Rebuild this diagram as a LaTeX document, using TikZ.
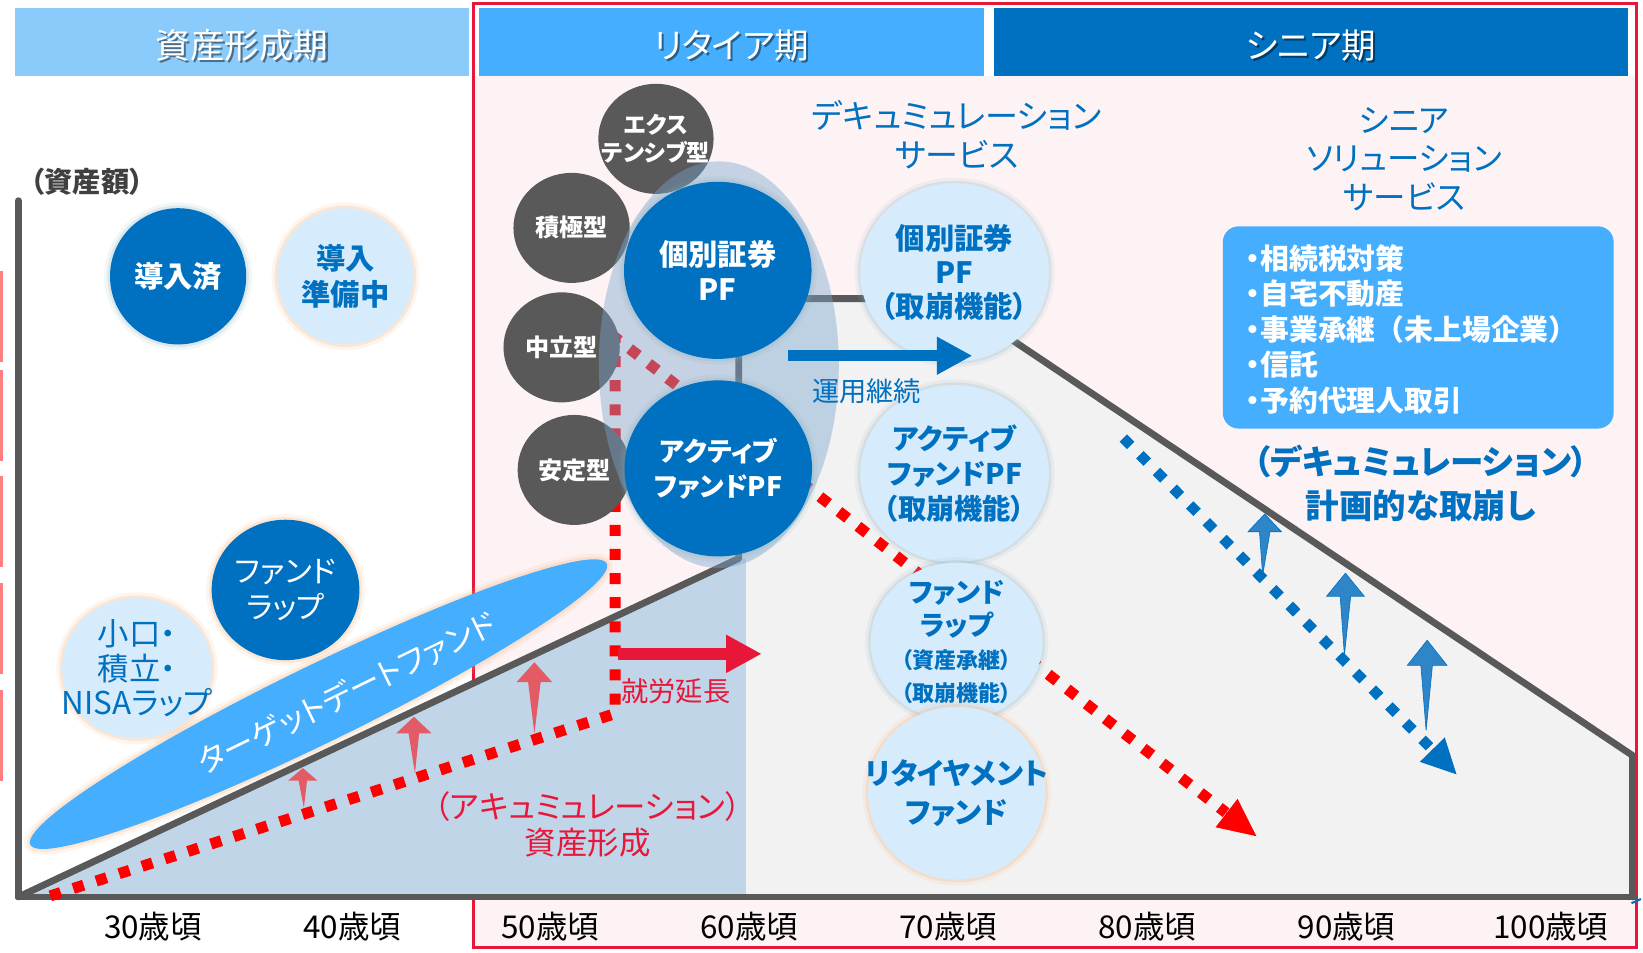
\documentclass[tikz,border=0pt]{standalone}
\usepackage{fontspec}
\setmainfont{Noto Sans CJK JP}[RawFeature=+palt]
\newfontfamily\fw{Noto Sans CJK JP}
\usetikzlibrary{arrows.meta,shapes.geometric}
\newcommand{\fsz}[2]{\fontsize{#1}{#2}\selectfont}
\definecolor{dblue}{HTML}{0070C0}
\definecolor{lblue}{HTML}{D6ECFC}
\definecolor{hdrA}{HTML}{8ACBFC}
\definecolor{hdrB}{HTML}{45AEFF}
\definecolor{gcirc}{HTML}{595959}
\definecolor{axisgray}{HTML}{595959}
\definecolor{pinkbg}{HTML}{FDF3F4}
\definecolor{crim}{HTML}{E8173A}
\definecolor{grayreg}{HTML}{F2F2F2}
\definecolor{bluereg}{HTML}{C0D6E8}
\definecolor{redarr}{HTML}{E35B64}
\definecolor{bluearr}{HTML}{2E86C8}
\definecolor{pinkmark}{HTML}{FF8080}
\definecolor{veil}{RGB}{120,165,205}
\definecolor{tealhalo}{HTML}{7FAABA}
\definecolor{peachhalo}{HTML}{F4A460}
\definecolor{txtgray}{HTML}{404040}
\begin{document}
\begin{tikzpicture}[x=1pt,y=-1pt,
  hdrbox/.style={rectangle, inner sep=0pt, draw=none},
  hdrtxt/.style={text=white, inner sep=0pt, font=\fsz{33}{40}},
  hdrshd/.style={text=black, text opacity=0.45, inner sep=0pt, font=\fsz{33}{40}},
  circ/.style={ellipse, inner sep=0pt},
  ctext/.style={inner sep=0pt, align=center},
  darkc/.style={circ, fill=dblue},
  lightc/.style={circ, fill=lblue},
  grayc/.style={circ, fill=gcirc},
  halo/.style={preaction={draw=#1, draw opacity=0.10, line width=11pt}, preaction={draw=#1, draw opacity=0.18, line width=5pt}},
  axisline/.style={draw=axisgray, line width=6.5pt, line join=round, line cap=round},
  reddot/.style={draw=red, line width=10.5pt, dash pattern=on 10.5pt off 12.5pt},
  bluedot/.style={draw=dblue, line width=10pt, dash pattern=on 10pt off 12.5pt},
  lbl/.style={inner sep=0pt, align=center},
  agelbl/.style={inner sep=0pt, text=black, font=\fsz{30}{30}}
]
\useasboundingbox (0,0) rectangle (1568,909);
\fill[white] (0,0) rectangle (1568,909);
% retire / senior background
\fill[pinkbg] (451.5,72.5) rectangle (1562,904);
\draw[crim, line width=3pt] (451.5,3.5) rectangle (1562,904);

% headers
\node[hdrbox, fill=hdrA, minimum width=433.6pt, minimum height=64.5pt] (hA) at (230.8,40.25) {};
\node[hdrbox, fill=hdrB, minimum width=482.3pt, minimum height=64.5pt] (hB) at (697.85,40.25) {};
\node[hdrbox, fill=dblue, minimum width=605.1pt, minimum height=64.5pt] (hC) at (1251.15,40.25) {};
\node[hdrshd] (hAs) at (233,45.5) {資産形成期};
\node[hdrtxt] (hAt) at (231,43.5) {資産形成期};
\node[hdrshd] (hBs) at (700,45.5) {リタイア期};
\node[hdrtxt] (hBt) at (698,43.5) {リタイア期};
\node[hdrshd] (hCs) at (1253,45.5) {シニア期};
\node[hdrtxt] (hCt) at (1251,43.5) {シニア期};

% left pink marks
\fill[pinkmark] (0,258.6) rectangle (3,345.5);
\fill[pinkmark] (0,353) rectangle (3,440);
\fill[pinkmark] (0,454) rectangle (3,541);
\fill[pinkmark] (0,556) rectangle (3,643);
\fill[pinkmark] (0,658.5) rectangle (3,745.4);

% regions
\fill[bluereg] (17.5,856) -- (705,533) -- (712,533) -- (712,856) -- cycle;
\fill[grayreg] (705,285) -- (907,285) -- (1558,721) -- (1558,856) -- (712,856) -- (712,533) -- (705,533) -- cycle;

% target date fund
\node[ellipse, rotate=26, minimum width=612pt, minimum height=74pt, fill=hdrB, inner sep=0pt, halo=peachhalo] (tdf) at (304,672) {};
\node[rotate=26, text=white, font=\fsz{30}{30}, inner sep=0pt] (tdfT) at (331,661) {ターゲットデートファンド};

% axes and outline
\draw[axisline] (17.5,191.5) -- (17.5,856) -- (1560,856);
\draw[axisline] (17.5,856) -- (705,533) -- (705,285) -- (907,285) -- (1558,721) -- (1558,856);

% red up arrows (accumulation)
\fill[redarr] (289,733) -- (275,745) -- (285,745) -- (290,771) -- (293,745) -- (303,745) -- cycle;
\fill[redarr] (395,684) -- (378,700) -- (390,700) -- (396,738) -- (400,700) -- (412,700) -- cycle;
\fill[redarr] (510,632) -- (493,651) -- (504,651) -- (510,700) -- (516,651) -- (527,651) -- cycle;

% red dotted path
\coordinate (rd0) at (48,855);
\coordinate (rd1) at (587,681);
\coordinate (rd2) at (587,322);
\coordinate (rdM) at (1170,775.5);
\coordinate (rdE) at (1199,798);
\draw[reddot] (rd0) -- (rd1) -- (rd2) -- (rdM);
\draw[red, line width=1pt, -{Triangle[length=36pt,width=34pt]}] (rdM) -- (rdE);

% gray risk-type circles
\node[grayc, minimum width=110pt, minimum height=105pt, label={[ctext, text=white, font=\bfseries\fsz{22}{27}]center:エクス\\テンシブ型}] (gExt) at (626,132.5) {};
\node[grayc, minimum width=111pt, minimum height=105pt, label={[ctext, text=white, font=\bfseries\fsz{23}{27}]center:積極型}] (gSek) at (545.5,217.5) {};
\node[grayc, minimum width=111pt, minimum height=105pt, label={[ctext, text=white, font=\bfseries\fsz{23}{27}]center:中立型}] (gChu) at (536,331.5) {};
\node[grayc, minimum width=108pt, minimum height=105pt, label={[ctext, text=white, font=\bfseries\fsz{23}{27}]center:安定型}] (gAn) at (548,448.5) {};

% translucent veil
\node[ellipse, fill=veil, fill opacity=0.42, minimum width=229pt, minimum height=388pt, inner sep=0pt] (veilE) at (686,348) {};

% dark blue circles
\node[darkc, halo=tealhalo, minimum width=179pt, minimum height=169pt, label={[ctext, text=white, font=\bfseries\fsz{28}{33.5}]center:個別証券\\PF}] (dKob) at (685,258) {};
\node[darkc, halo=tealhalo, minimum width=179pt, minimum height=168pt, label={[ctext, text=white, font=\bfseries\fsz{25.5}{33.5}]center:アクティブ\\ファンドPF}] (dAct) at (685.5,447) {};
\node[darkc, halo=tealhalo, minimum width=130pt, minimum height=130pt, label={[ctext, text=white, font=\bfseries\fsz{28}{33.5}]center:導入済}] (dDonyu) at (170,263.7) {};
\node[darkc, halo=peachhalo, minimum width=141pt, minimum height=134pt, label={[ctext, text=white, font=\fsz{29}{33.5}]center:ファンド\\ラップ}] (dFW) at (272.5,563) {};

% light blue circles
\node[lightc, halo=peachhalo, minimum width=130pt, minimum height=130pt, label={[ctext, text=dblue, font=\bfseries\fsz{28}{33.6}]center:導入\\準備中}] (lJunbi) at (329.6,263.7) {};
\node[lightc, halo=peachhalo, minimum width=143pt, minimum height=134pt, label={[ctext, text=dblue, font=\fsz{30}{32.7}]center:小口・\\積立・\\NISAラップ}] (lKoguchi) at (130.7,637.8) {};
\node[lightc, halo=tealhalo, minimum width=180pt, minimum height=170pt, label={[ctext, text=dblue, font=\bfseries\fsz{28}{32.8}]center:個別証券\\PF\\（取崩機能）}] (lKob) at (911,260) {};
\node[lightc, halo=tealhalo, minimum width=180pt, minimum height=169pt, label={[ctext, text=dblue, font=\bfseries\fsz{27}{33.4}]center:アクティブ\\ファンドPF\\（取崩機能）}] (lAct) at (911,452) {};
\node[lightc, halo=tealhalo, minimum width=164pt, minimum height=151pt, label={[ctext, text=dblue, font=\bfseries\fsz{26}{31.5}]center:ファンド\\ラップ\\{\fsz{21}{31.5}（資産承継）}\\{\fsz{21}{30}（取崩機能）}}] (lFW) at (913,612.5) {};
\node[lightc, halo=peachhalo, minimum width=169pt, minimum height=165pt, label={[ctext, text=dblue, font=\bfseries\fsz{28}{36.6}]center:リタイヤメント\\ファンド}] (lRet) at (913,757) {};

% thick arrows
\coordinate (ua0) at (752,339.5);
\coordinate (ua1) at (928,339.5);
\draw[dblue, line width=10.5pt, -{Triangle[length=34pt,width=34pt]}] (ua0) -- (ua1);
\coordinate (sa0) at (590,624);
\coordinate (sa1) at (727,624);
\draw[crim, line width=11pt, -{Triangle[length=34pt,width=34pt]}] (sa0) -- (sa1);

% blue dotted decumulation path
\coordinate (bd0) at (1072,418);
\coordinate (bdM) at (1367,715.5);
\coordinate (bdE) at (1390,739);
\draw[bluedot] (bd0) -- (bdM);
\draw[dblue, line width=1pt, -{Triangle[length=33pt,width=33pt]}] (bdM) -- (bdE);

% blue up arrows
\fill[bluearr, draw=dblue, line width=0.6pt] (1207,490.5) -- (1191,507.5) -- (1202,507.5) -- (1205,549) -- (1212,507.5) -- (1223,507.5) -- cycle;
\fill[bluearr, draw=dblue, line width=0.6pt] (1284,547) -- (1266,569) -- (1279,569) -- (1283,625) -- (1289,569) -- (1302,569) -- cycle;
\fill[bluearr, draw=dblue, line width=0.6pt] (1362,611) -- (1343,635) -- (1356,635) -- (1361,697) -- (1367,635) -- (1381,635) -- cycle;

% labels
\node[lbl, text=txtgray, font=\bfseries\fsz{27}{30}] (tAmount) at (83,173) {（資産額）};
\node[lbl, text=dblue, font=\fsz{31.5}{37}] (tDecum) at (913,128.5) {デキュミュレーション\\サービス};
\node[lbl, text=dblue, font=\fsz{31}{37}] (tSenior) at (1340,152) {シニア\\ソリューション\\サービス};
\node[rectangle, rounded corners=15pt, fill=hdrB, minimum width=373pt, minimum height=193pt, inner sep=0pt] (sol) at (1353.5,312.5) {};
\node[inner sep=0pt, anchor=west, align=left, text=white, font=\bfseries\fsz{27.5}{33.9}] (solT) at (1189,314) {・相続税対策\\・自宅不動産\\・事業承継{\fw （}未上場企業{\fw ）}\\・信託\\・予約代理人取引};
\node[lbl, text=dblue, font=\bfseries\fsz{32}{42}] (tPlan) at (1356,461) {（デキュミュレーション）\\計画的な取崩し};
\node[lbl, text=dblue, font=\fsz{26}{30}] (tUnyo) at (827,373.8) {運用継続};
\node[lbl, text=crim, font=\fsz{26}{30}] (tShuro) at (645,660) {就労延長};
\node[lbl, text=crim, font=\fsz{30}{35}] (tAccum) at (561,786.7) {（アキュミュレーション）\\資産形成};

% ages
\node[agelbl] (a30) at (146,884.5) {30歳頃};
\node[agelbl] (a40) at (336,884.5) {40歳頃};
\node[agelbl] (a50) at (525,884.5) {50歳頃};
\node[agelbl] (a60) at (715,884.5) {60歳頃};
\node[agelbl] (a70) at (905,884.5) {70歳頃};
\node[agelbl] (a80) at (1095,884.5) {80歳頃};
\node[agelbl] (a90) at (1285,884.5) {90歳頃};
\node[agelbl] (a100) at (1480,884.5) {100歳頃};

% small blue tick at axis end
\coordinate (tk0) at (1557,862);
\coordinate (tk1) at (1566,858);
\draw[dblue, line width=2pt] (tk0) -- (tk1);
\end{tikzpicture}
\end{document}
